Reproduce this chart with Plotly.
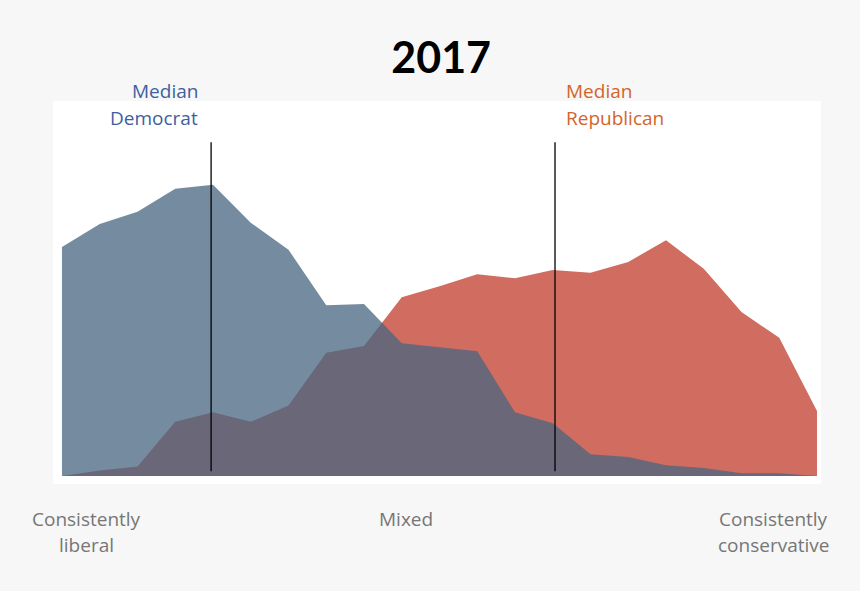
import plotly.graph_objects as go

# ideological scale positions (0 = consistently liberal, 20 = consistently conservative)
positions = list(range(21))

# share of each party at each position (%)
democrats = [8.45, 9.3, 9.75, 10.6, 10.75, 9.35, 8.35, 6.3, 6.35, 4.9, 4.75, 4.6,
             2.35, 1.95, 0.8, 0.7, 0.4, 0.3, 0.1, 0.1, 0.0]
republicans = [0.0, 0.2, 0.35, 2.0, 2.35, 2.0, 2.6, 4.55, 4.8, 6.6, 7.0, 7.45,
               7.3, 7.6, 7.5, 7.9, 8.7, 7.65, 6.05, 5.1, 2.4]

median_dem = 3.95
median_rep = 13.06
median_line_bottom = 0.18
median_line_top = 12.32

title_text = "2017"
dem_label = ["Median", "Democrat"]
rep_label = ["Median", "Republican"]
axis_labels = [["Consistently", "liberal"], ["Mixed"], ["Consistently", "conservative"]]

fig = go.Figure()
fig.add_trace(go.Scatter(x=positions, y=republicans, mode="lines", fill="tozeroy",
                         line=dict(width=0, color="rgb(208,108,96)"),
                         fillcolor="rgb(208,108,96)", hoverinfo="skip", showlegend=False))
fig.add_trace(go.Scatter(x=positions, y=democrats, mode="lines", fill="tozeroy",
                         line=dict(width=0, color="rgba(71,102,128,0.75)"),
                         fillcolor="rgba(71,102,128,0.75)", hoverinfo="skip", showlegend=False))

for xm in (median_dem, median_rep):
    fig.add_shape(type="line", xref="x", yref="y", x0=xm, x1=xm,
                  y0=median_line_bottom, y1=median_line_top,
                  line=dict(color="black", width=1.3))

font_family = "Open Sans"
dem_color = "rgb(62,96,158)"
rep_color = "rgb(212,100,42)"
gray = "rgb(118,118,118)"

ann = []
# Median labels (line centres in pixels: 91, 118)
for i, line in enumerate(dem_label):
    ann.append(dict(text=line, xref="paper", yref="paper", x=0.191, y=(484 - (91 + 27 * i)) / 383,
                    xanchor="right", yanchor="middle", showarrow=False,
                    font=dict(family=font_family, size=19, color=dem_color)))
for i, line in enumerate(rep_label):
    ann.append(dict(text=line, xref="paper", yref="paper", x=0.665, y=(484 - (91 + 27 * i)) / 383,
                    xanchor="left", yanchor="middle", showarrow=False,
                    font=dict(family=font_family, size=19, color=rep_color)))
# bottom category labels
label_x = [0.043, 0.459, 0.9375]
for lx, lines in zip(label_x, axis_labels):
    for i, line in enumerate(lines):
        ann.append(dict(text=line, xref="paper", yref="paper", x=lx, y=(484 - (519 + 26 * i)) / 383,
                        xanchor="center", yanchor="middle", showarrow=False,
                        font=dict(family=font_family, size=19, color=gray)))

fig.update_layout(
    width=860, height=591,
    paper_bgcolor="#f7f7f7", plot_bgcolor="white",
    margin=dict(l=53, r=39, t=101, b=107),
    title=dict(text="<b>" + title_text + "</b>", x=0.513, xanchor="center",
               y=1 - 58 / 591, yanchor="middle", yref="container",
               font=dict(family="Lato", size=43, color="black")),
    xaxis=dict(range=[-0.238, 20.106], visible=False, showgrid=False, zeroline=False),
    yaxis=dict(range=[-0.295, 13.84], visible=False, showgrid=False, zeroline=False),
    annotations=ann,
)

fig.write_html("out.html", config={"displayModeBar": False},
               post_script="document.body.style.margin='0';document.body.style.background='#f7f7f7';")
